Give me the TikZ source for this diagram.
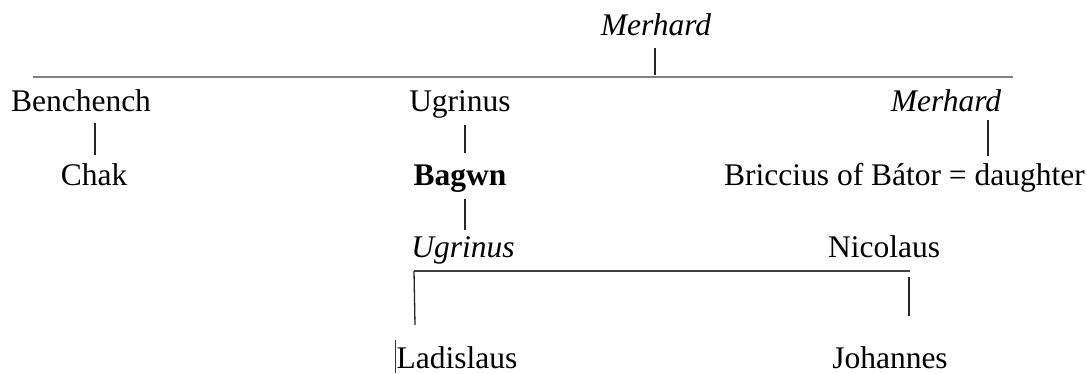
\documentclass[tikz,border=0pt]{standalone}
\usepackage{fontspec}
\setmainfont{Liberation Serif}
\begin{document}
\begin{tikzpicture}[x=1pt,y=-1pt,
  lbl/.style={inner sep=0pt, anchor=base, font=\fontsize{31.5}{36}\selectfont},
  conn/.style={line width=1.3pt, black!85},
  topbar/.style={line width=2.6pt, black!50},
  lowbar/.style={line width=2pt, black!75}]
\useasboundingbox (0,0) rectangle (1087,373);
% names
\node[lbl] (mtop) at (656,35) {\itshape Merhard};
\node[lbl] (bench) at (81,111) {Benchench};
\node[lbl] (ugr1) at (460,111) {Ugrinus};
\node[lbl] (mr) at (946,111) {\itshape Merhard};
\node[lbl] (chak) at (94,185) {Chak};
\node[lbl] (bagwn) at (460,185) {\bfseries Bagwn};
\node[lbl, anchor=base east] (bric) at (1085,185) {Briccius of Bátor = daughter};
\node[lbl] (ugr2) at (463,257) {\itshape Ugrinus};
\node[lbl] (nic) at (884,257) {Nicolaus};
\node[lbl] (lad) at (457,368) {Ladislaus};
\node[lbl] (joh) at (890,368) {Johannes};
% connector points
\coordinate (barL) at (33,77);
\coordinate (barR) at (1013,77);
\coordinate (m1) at (655,48);
\coordinate (m2) at (655,75);
\coordinate (b1) at (95,123);
\coordinate (b2) at (95,155);
\coordinate (u1) at (465,125);
\coordinate (u2) at (465,153);
\coordinate (r1) at (988,120);
\coordinate (r2) at (988,156);
\coordinate (g1) at (465,199);
\coordinate (g2) at (465,230);
\coordinate (lowL) at (414,271);
\coordinate (lowR) at (910,271);
\coordinate (l2) at (415,325);
\coordinate (j1) at (909,277);
\coordinate (j2) at (909,316);
\coordinate (k1) at (395,340);
\coordinate (k2) at (395,373);
% lines
\draw[topbar] (barL) -- (barR);
\draw[conn] (m1) -- (m2);
\draw[conn] (b1) -- (b2);
\draw[conn] (u1) -- (u2);
\draw[conn] (r1) -- (r2);
\draw[conn] (g1) -- (g2);
\draw[lowbar] (lowL) -- (lowR);
\draw[conn] (lowL) -- (l2);
\draw[conn] (j1) -- (j2);
\draw[line width=1pt, black!80] (k1) -- (k2);
\end{tikzpicture}
\end{document}
